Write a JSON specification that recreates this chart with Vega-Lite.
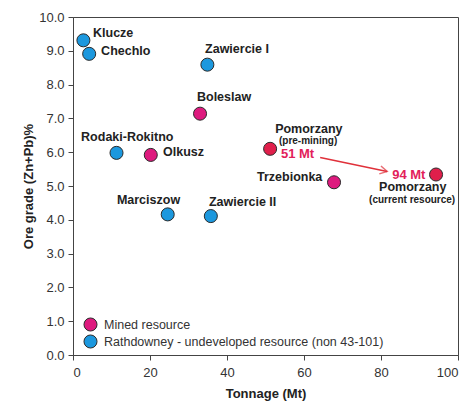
{
  "$schema": "https://vega.github.io/schema/vega-lite/v6.json",
  "autosize": {"type": "none"},
  "width": 385,
  "height": 338,
  "padding": {"left": 73, "top": 17, "right": 18, "bottom": 51},
  "config": {
    "font": "Liberation Sans",
    "view": {"stroke": "#444", "strokeWidth": 1},
    "axis": {
      "grid": false,
      "domainColor": "#444",
      "tickColor": "#444",
      "tickSize": 5,
      "labelOverlap": false,
      "labelFont": "Liberation Sans",
      "labelFontSize": 13,
      "labelColor": "#333",
      "titleFont": "Liberation Sans",
      "titleFontSize": 13,
      "titleFontWeight": "bold",
      "titleColor": "#222"
    },
    "axisX": {"labelPadding": 6, "titlePadding": 8},
    "axisY": {"labelPadding": 4, "titlePadding": 3}
  },
  "datasets": {
    "sites": [
      {"name": "Klucze", "tonnage": 2.7, "grade": 9.31, "type": "Rathdowney - undeveloped resource (non 43-101)"},
      {"name": "Chechlo", "tonnage": 4.2, "grade": 8.91, "type": "Rathdowney - undeveloped resource (non 43-101)"},
      {"name": "Zawiercie I", "tonnage": 34.9, "grade": 8.59, "type": "Rathdowney - undeveloped resource (non 43-101)"},
      {"name": "Boleslaw", "tonnage": 33.0, "grade": 7.14, "type": "Mined resource"},
      {"name": "Rodaki-Rokitno", "tonnage": 11.3, "grade": 5.98, "type": "Rathdowney - undeveloped resource (non 43-101)"},
      {"name": "Olkusz", "tonnage": 20.2, "grade": 5.92, "type": "Mined resource"},
      {"name": "Pomorzany (pre-mining)", "tonnage": 51.2, "grade": 6.10, "type": "Pomorzany"},
      {"name": "Trzebionka", "tonnage": 67.8, "grade": 5.11, "type": "Mined resource"},
      {"name": "Pomorzany (current resource)", "tonnage": 94.3, "grade": 5.34, "type": "Pomorzany"},
      {"name": "Marciszow", "tonnage": 24.6, "grade": 4.16, "type": "Rathdowney - undeveloped resource (non 43-101)"},
      {"name": "Zawiercie II", "tonnage": 35.8, "grade": 4.11, "type": "Rathdowney - undeveloped resource (non 43-101)"}
    ],
    "labels": [
      {"text": "Klucze", "lx": 5.2, "ly": 9.54, "kind": "name"},
      {"text": "Chechlo", "lx": 7.3, "ly": 9.0, "kind": "name"},
      {"text": "Zawiercie I", "lx": 34.3, "ly": 9.04, "kind": "name"},
      {"text": "Boleslaw", "lx": 32.2, "ly": 7.62, "kind": "name"},
      {"text": "Rodaki-Rokitno", "lx": 2.1, "ly": 6.44, "kind": "name"},
      {"text": "Olkusz", "lx": 23.4, "ly": 6.02, "kind": "name"},
      {"text": "Pomorzany", "lx": 52.5, "ly": 6.69, "kind": "name"},
      {"text": "(pre-mining)", "lx": 53.5, "ly": 6.32, "kind": "note"},
      {"text": "51 Mt", "lx": 54.0, "ly": 5.95, "kind": "tonnage"},
      {"text": "Trzebionka", "lx": 47.8, "ly": 5.28, "kind": "name"},
      {"text": "94 Mt", "lx": 82.9, "ly": 5.34, "kind": "tonnage"},
      {"text": "Pomorzany", "lx": 79.5, "ly": 4.97, "kind": "name"},
      {"text": "(current resource)", "lx": 76.9, "ly": 4.6, "kind": "note"},
      {"text": "Marciszow", "lx": 11.4, "ly": 4.6, "kind": "name"},
      {"text": "Zawiercie II", "lx": 35.3, "ly": 4.54, "kind": "name"}
    ],
    "arrow": [
      {"ax": 64.2, "ay": 5.84, "part": "tail"},
      {"ax": 81.6, "ay": 5.43, "part": "head"}
    ]
  },
  "layer": [
    {
      "data": {"name": "sites"},
      "mark": {"type": "point", "shape": "circle", "filled": true, "opacity": 1, "size": 170, "stroke": "#2a2a2a", "strokeWidth": 1},
      "encoding": {
        "x": {
          "field": "tonnage", "type": "quantitative",
          "scale": {"domain": [0, 100], "nice": false, "zero": true},
          "axis": {"values": [0, 20, 40, 60, 80, 100], "title": "Tonnage (Mt)"}
        },
        "y": {
          "field": "grade", "type": "quantitative",
          "scale": {"domain": [0, 10], "nice": false},
          "axis": {"values": [0, 1, 2, 3, 4, 5, 6, 7, 8, 9, 10], "format": ".1f", "title": "Ore grade (Zn+Pb)%"}
        },
        "fill": {
          "field": "type", "type": "nominal",
          "scale": {
            "domain": ["Mined resource", "Rathdowney - undeveloped resource (non 43-101)", "Pomorzany"],
            "range": ["#DE1A7E", "#1C98DE", "#E01F4B"]
          },
          "legend": {
            "values": ["Mined resource", "Rathdowney - undeveloped resource (non 43-101)"],
            "title": null,
            "orient": "none",
            "legendX": 10,
            "legendY": 300,
            "labelFont": "Liberation Sans",
            "labelFontSize": 12.5,
            "labelColor": "#333",
            "labelLimit": 400,
            "symbolSize": 170,
            "symbolStrokeColor": "#2a2a2a",
            "symbolStrokeWidth": 1,
            "symbolType": "circle",
            "rowPadding": -2,
            "labelOffset": 6
          }
        }
      }
    },
    {
      "data": {"name": "arrow"},
      "mark": {"type": "line", "color": "#E0303A", "strokeWidth": 1.5},
      "encoding": {
        "x": {"field": "ax", "type": "quantitative", "axis": {"values": [0, 20, 40, 60, 80, 100], "title": "Tonnage (Mt)"}},
        "y": {"field": "ay", "type": "quantitative", "axis": {"values": [0, 1, 2, 3, 4, 5, 6, 7, 8, 9, 10], "format": ".1f", "title": "Ore grade (Zn+Pb)%"}}
      }
    },
    {
      "data": {"name": "arrow"},
      "transform": [{"filter": "datum.part === 'head'"}],
      "mark": {"type": "point", "shape": "M-1.8,-1L0,0L-1.8,1", "filled": false, "stroke": "#E0303A", "strokeWidth": 1.5, "size": 64, "angle": 12},
      "encoding": {
        "x": {"field": "ax", "type": "quantitative", "axis": {"values": [0, 20, 40, 60, 80, 100], "title": "Tonnage (Mt)"}},
        "y": {"field": "ay", "type": "quantitative", "axis": {"values": [0, 1, 2, 3, 4, 5, 6, 7, 8, 9, 10], "format": ".1f", "title": "Ore grade (Zn+Pb)%"}}
      }
    },
    {
      "data": {"name": "labels"},
      "transform": [{"filter": "datum.kind === 'name'"}],
      "mark": {"type": "text", "align": "left", "baseline": "middle", "font": "Liberation Sans", "fontWeight": "bold", "fontSize": 12.5, "color": "#222"},
      "encoding": {
        "x": {"field": "lx", "type": "quantitative", "axis": {"values": [0, 20, 40, 60, 80, 100], "title": "Tonnage (Mt)"}},
        "y": {"field": "ly", "type": "quantitative", "axis": {"values": [0, 1, 2, 3, 4, 5, 6, 7, 8, 9, 10], "format": ".1f", "title": "Ore grade (Zn+Pb)%"}},
        "text": {"field": "text"}
      }
    },
    {
      "data": {"name": "labels"},
      "transform": [{"filter": "datum.kind === 'note'"}],
      "mark": {"type": "text", "align": "left", "baseline": "middle", "font": "Liberation Sans", "fontWeight": "bold", "fontSize": 10, "color": "#222"},
      "encoding": {
        "x": {"field": "lx", "type": "quantitative", "axis": {"values": [0, 20, 40, 60, 80, 100], "title": "Tonnage (Mt)"}},
        "y": {"field": "ly", "type": "quantitative", "axis": {"values": [0, 1, 2, 3, 4, 5, 6, 7, 8, 9, 10], "format": ".1f", "title": "Ore grade (Zn+Pb)%"}},
        "text": {"field": "text"}
      }
    },
    {
      "data": {"name": "labels"},
      "transform": [{"filter": "datum.kind === 'tonnage'"}],
      "mark": {"type": "text", "align": "left", "baseline": "middle", "font": "Liberation Sans", "fontWeight": "bold", "fontSize": 13, "color": "#E2215A"},
      "encoding": {
        "x": {"field": "lx", "type": "quantitative", "axis": {"values": [0, 20, 40, 60, 80, 100], "title": "Tonnage (Mt)"}},
        "y": {"field": "ly", "type": "quantitative", "axis": {"values": [0, 1, 2, 3, 4, 5, 6, 7, 8, 9, 10], "format": ".1f", "title": "Ore grade (Zn+Pb)%"}},
        "text": {"field": "text"}
      }
    }
  ]
}
